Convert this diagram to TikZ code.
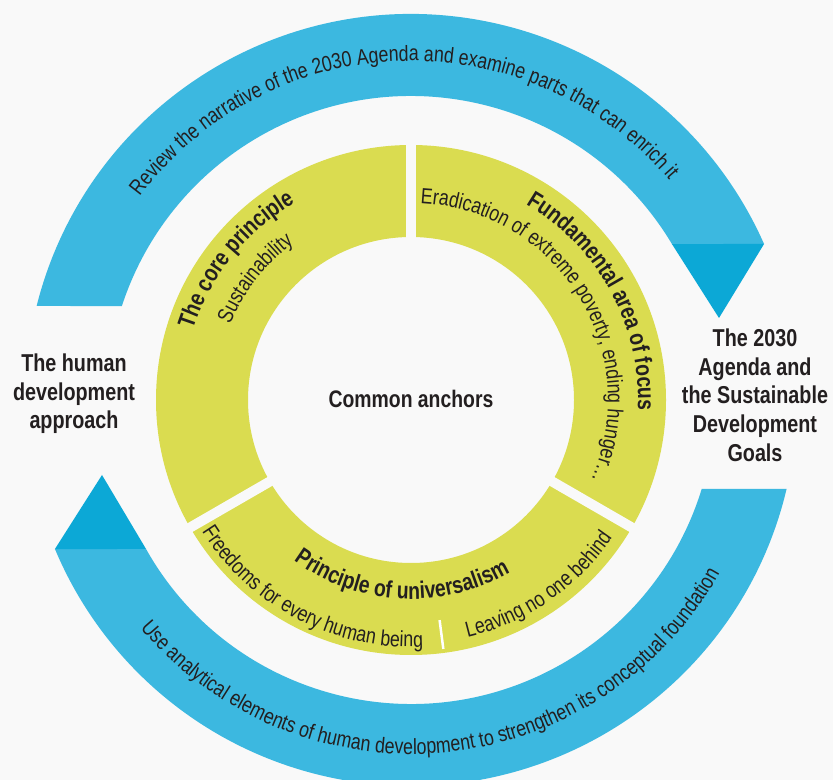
\documentclass[tikz,border=0pt]{standalone}
\usepackage{fontspec}
\setmainfont{Liberation Sans}[FakeStretch=0.81]
\usetikzlibrary{decorations.text}
\definecolor{bg}{RGB}{249,249,249}
\definecolor{arcblue}{RGB}{60,184,224}
\definecolor{tipblue}{RGB}{12,168,214}
\definecolor{ringyellow}{RGB}{218,220,80}
\definecolor{ink}{RGB}{35,31,32}
\newcommand\ringreg{\fontsize{22}{26}\selectfont}
\newcommand\ringbold{\fontsize{24}{29}\selectfont\bfseries}
\newcommand\sidebold{\fontsize{24.5}{28.8}\selectfont\bfseries}
\tikzset{
  arctext/.style={decorate, decoration={text along path, text align=center, text color=ink, text={#1}}},
  sidelabel/.style={font=\sidebold, align=center, text=ink, inner sep=0pt},
  gapline/.style={draw=bg, line width=10bp},
}
\begin{document}
\begin{tikzpicture}[x=1bp, y=1bp]
\useasboundingbox (0,0) rectangle (833,780);
\clip (0,0) rectangle (833,780);
\fill[bg] (0,0) rectangle (833,780);
\begin{scope}[shift={(411,380)}]
  % blue arcs
  \fill[arcblue] (165.9:386) arc[start angle=165.9, end angle=23.84, radius=386]
     -- (30.87:304) arc[start angle=30.87, end angle=162.0, radius=304] -- cycle;
  \fill[tipblue] (30.87:304) -- (23.84:386) -- (308,82) -- cycle;
  \fill[arcblue] (-13.33:386) arc[start angle=-13.33, end angle=-157.29, radius=386]
     -- (-150.65:304) arc[start angle=-150.65, end angle=-17.02, radius=304] -- cycle;
  \fill[tipblue] (-157.29:386) -- (-150.65:304) -- (-309,-75) -- cycle;
  % ring
  \fill[ringyellow, even odd rule] (0,0) circle[radius=255] (0,0) circle[radius=163];
  \draw[gapline] (90:150) -- (90:265);
  \draw[gapline] (210:150) -- (210:265);
  \draw[gapline] (330:150) -- (330:265);
  \draw[white, line width=2.5bp] (-82.6:222) -- (-82.6:251);
  % curved texts
  \path[arctext={|\ringreg|Review the narrative of the 2030 Agenda and examine parts that can enrich it}]
     (171.75:339) arc[start angle=171.75, end angle=11.75, radius=339];
  \path[arctext={|\ringreg|Use analytical elements of human development to strengthen its conceptual foundation}]
     (195.4:354) arc[start angle=195.4, end angle=355.4, radius=354];
  \path[arctext={|\ringbold|The core principle}]
     (181.3:229) arc[start angle=181.3, end angle=101.3, radius=229];
  \path[arctext={|\ringreg|Sustainability}]
     (182:196) arc[start angle=182, end angle=102, radius=196];
  \path[arctext={|\ringbold|Fundamental area of focus}]
     (68.5:227) arc[start angle=68.5, end angle=-11.5, radius=227];
  \path[arctext={|\ringreg|Eradication of extreme poverty, ending hunger…}]
     (111.75:197) arc[start angle=111.75, end angle=-48.25, radius=197];
  \path[arctext={|\ringbold|Principle of universalism}]
     (216.9:199) arc[start angle=216.9, end angle=316.9, radius=199];
  \path[arctext={|\ringreg|Freedoms for every human being}]
     (202.45:247) arc[start angle=202.45, end angle=282.45, radius=247];
  \path[arctext={|\ringreg|Leaving no one behind}]
     (274.5:244) arc[start angle=274.5, end angle=334.5, radius=244];
  \node[sidelabel, font=\ringbold] (anchors) at (0,1) {Common anchors};
\end{scope}
\node[sidelabel] (human) at (74,386) {The human\\development\\approach};
\node[sidelabel] (agenda) at (755,385) {The 2030\\Agenda and\\the Sustainable\\Development\\Goals};
\end{tikzpicture}
\end{document}
